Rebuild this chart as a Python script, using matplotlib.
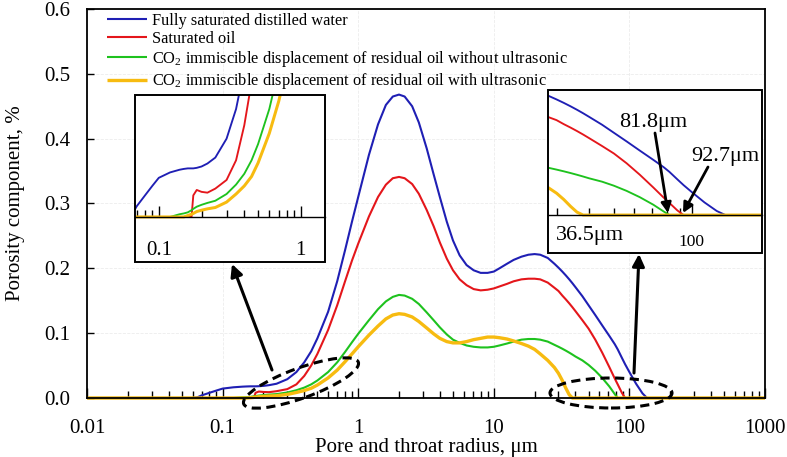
import numpy as np
import matplotlib
matplotlib.use("Agg")
import matplotlib.pyplot as plt
from matplotlib.patches import Ellipse, Rectangle, FancyArrowPatch
from matplotlib.ticker import LogLocator, NullFormatter

plt.rcParams['font.family'] = ['Liberation Serif', 'DejaVu Serif']
plt.rcParams['mathtext.fontset'] = 'custom'
plt.rcParams['mathtext.rm'] = 'Liberation Serif'

# ---------------- data ----------------
radius = [0.01, 0.06, 0.065, 0.07, 0.08, 0.09, 0.1, 0.12, 0.14, 0.15,
          0.16, 0.17, 0.175, 0.185, 0.2, 0.22, 0.25, 0.3, 0.35, 0.4,
          0.45, 0.5, 0.6, 0.7, 0.8, 0.9, 1.0, 1.2, 1.4, 1.6,
          1.8, 2.0, 2.2, 2.5, 2.8, 3.2, 3.6, 4.0, 4.5, 5.0,
          5.6, 6.3, 7.1, 8.0, 9.0, 10, 11, 12.5, 14, 16,
          18, 20, 22, 25, 28, 30, 32, 34, 36, 38,
          40, 45, 50, 56, 63, 71, 78, 82, 88, 93,
          100, 112, 125, 135, 1000]

water = [0, 0, 0.001, 0.004, 0.008, 0.0115, 0.0145, 0.0165, 0.0175, 0.0178,
         0.018, 0.018, 0.018, 0.0182, 0.0187, 0.0198, 0.022, 0.029, 0.040, 0.055,
         0.072, 0.092, 0.133, 0.18, 0.228, 0.272, 0.31, 0.375, 0.422, 0.452,
         0.465, 0.468, 0.465, 0.45, 0.425, 0.385, 0.345, 0.31, 0.272, 0.243,
         0.22, 0.205, 0.197, 0.193, 0.193, 0.195, 0.2, 0.207, 0.213, 0.218,
         0.221, 0.222, 0.221, 0.216, 0.207, 0.201, 0.195, 0.189, 0.183, 0.177,
         0.171, 0.157, 0.143, 0.128, 0.112, 0.096, 0.083, 0.075, 0.062, 0.052,
         0.04, 0.022, 0.007, 0, 0]

oil = [0, 0, 0, 0, 0, 0, 0, 0, 0, 0,
       0, 0, 0.008, 0.010, 0.0093, 0.009, 0.0105, 0.0137, 0.021, 0.034,
       0.05, 0.068, 0.105, 0.143, 0.18, 0.212, 0.238, 0.28, 0.31, 0.329,
       0.339, 0.341, 0.339, 0.33, 0.315, 0.29, 0.265, 0.24, 0.215, 0.197,
       0.183, 0.174, 0.168, 0.166, 0.167, 0.169, 0.172, 0.176, 0.18, 0.183,
       0.184, 0.184, 0.183, 0.178, 0.17, 0.165, 0.158, 0.152, 0.146, 0.14,
       0.134, 0.12, 0.107, 0.09, 0.07, 0.048, 0.03, 0.021, 0.008, 0,
       0, 0, 0, 0, 0]

no_ultra = [0, 0, 0, 0, 0, 0, 0, 0, 0.001, 0.0013,
            0.0017, 0.0025, 0.003, 0.0038, 0.0045, 0.0052, 0.006, 0.0085, 0.012, 0.016,
            0.021, 0.027, 0.04, 0.055, 0.071, 0.086, 0.099, 0.12, 0.137, 0.149,
            0.156, 0.159, 0.158, 0.153, 0.145, 0.132, 0.12, 0.109, 0.098, 0.09,
            0.085, 0.081, 0.079, 0.078, 0.078, 0.079, 0.081, 0.084, 0.087, 0.09,
            0.091, 0.091, 0.09, 0.087, 0.082, 0.079, 0.076, 0.073, 0.07, 0.067,
            0.064, 0.058, 0.051, 0.042, 0.031, 0.018, 0.006, 0, 0, 0,
            0, 0, 0, 0, 0]

with_ultra = [0, 0, 0, 0, 0, 0, 0, 0, 0, 0,
              0.0005, 0.001, 0.0013, 0.002, 0.0025, 0.003, 0.0035, 0.0055, 0.0085, 0.0115,
              0.015, 0.02, 0.031, 0.043, 0.056, 0.068, 0.079, 0.097, 0.111, 0.122,
              0.128, 0.13, 0.129, 0.125, 0.118, 0.108, 0.099, 0.092, 0.087, 0.085,
              0.085, 0.087, 0.09, 0.092, 0.094, 0.094, 0.093, 0.091, 0.088, 0.084,
              0.08, 0.075, 0.068, 0.058, 0.047, 0.038, 0.027, 0.015, 0.005, 0,
              0, 0, 0, 0, 0, 0, 0, 0, 0, 0,
              0, 0, 0, 0, 0]

series_labels = ["Fully saturated distilled water",
                 "Saturated oil",
                 "CO$_\\mathregular{2}$ immiscible displacement of residual oil without ultrasonic",
                 "CO$_\\mathregular{2}$ immiscible displacement of residual oil with ultrasonic"]
series_values = [water, oil, no_ultra, with_ultra]
series_colors = ["#1f1fb4", "#e4161b", "#1ec21e", "#f7bb10"]
series_widths = [1.5, 1.5, 1.5, 2.4]

x_ticks = [0.01, 0.1, 1, 10, 100, 1000]
x_ticklabels = ["0.01", "0.1", "1", "10", "100", "1000"]
y_ticks = [0.0, 0.1, 0.2, 0.3, 0.4, 0.5, 0.6]
y_ticklabels = ["0.0", "0.1", "0.2", "0.3", "0.4", "0.5", "0.6"]

# ---------------- figure ----------------
W, H = 787, 457
fig = plt.figure(figsize=(W / 100, H / 100), dpi=100)


def fbox(x0, y0, x1, y1):
    return [x0 / W, 1 - y1 / H, (x1 - x0) / W, (y1 - y0) / H]


def inch(px, py):
    return (px / 100, (H - py) / 100)


ax = fig.add_axes(fbox(87, 9, 765, 398))
for vals, lab, c, lw in zip(series_values, series_labels, series_colors, series_widths):
    ax.plot(radius, vals, color=c, lw=lw, label=lab, clip_on=False, solid_capstyle='butt')
ax.set_xscale('log')
ax.set_xlim(0.01, 1000)
ax.set_ylim(0, 0.6)
ax.set_xticks(x_ticks)
ax.set_xticklabels(x_ticklabels)
ax.set_yticks(y_ticks)
ax.set_yticklabels(y_ticklabels)
ax.xaxis.set_minor_locator(LogLocator(base=10, subs=np.arange(2, 10), numticks=100))
ax.xaxis.set_minor_formatter(NullFormatter())
ax.tick_params(which='both', direction='in', labelsize=15, width=1)
ax.tick_params(axis='x', which='major', length=7, pad=15)
ax.tick_params(axis='x', which='minor', length=5)
ax.tick_params(axis='y', which='major', length=5, pad=12)
for s in ax.spines.values():
    s.set_linewidth(1.3)
ax.grid(True, which='major', color='#ececec', ls='--', lw=0.6)
ax.set_axisbelow(True)
ax.set_xlabel("Pore and throat radius, μm", fontsize=15, labelpad=0)
ax.set_ylabel("Porosity component, %", fontsize=15, labelpad=14)

leg = ax.legend(loc='upper left', bbox_to_anchor=(0.03, 0.99), frameon=False,
                fontsize=11.8, handlelength=2.45, handletextpad=0.3,
                labelspacing=0.13, borderaxespad=0, borderpad=0)

# ---------------- left inset ----------------
axL = fig.add_axes(fbox(135, 95, 325, 262))
for vals, c, lw in zip(series_values, series_colors, series_widths):
    axL.plot(radius, vals, color=c, lw=lw * 0.9)
axL.set_xscale('log')
axL.set_xlim(0.068, 1.48)
axL.set_ylim(-0.0167, 0.0452)
axL.set_yticks([])
axL.set_xticks([0.1, 1])
axL.set_xticklabels(["0.1", "1"])
axL.xaxis.set_minor_locator(LogLocator(base=10, subs=np.arange(2, 10), numticks=100))
axL.xaxis.set_minor_formatter(NullFormatter())
axL.spines['bottom'].set_position(('data', 0))
axL.spines['bottom'].set_linewidth(1.0)
for k in ['top', 'left', 'right']:
    axL.spines[k].set_visible(False)
axL.tick_params(which='both', direction='in', labelsize=15, width=1, pad=17)
axL.tick_params(which='major', length=8)
axL.tick_params(which='minor', length=5)
axL.add_patch(Rectangle((0, 0), 1, 1, transform=axL.transAxes, fill=False,
                        ec='black', lw=1.4, clip_on=False, zorder=5))

# ---------------- right inset ----------------
axR = fig.add_axes(fbox(548, 90, 762, 253))
for vals, c, lw in zip(series_values, series_colors, series_widths):
    axR.plot(radius, vals, color=c, lw=lw * 0.9)
axR.set_xscale('log')
axR.set_xlim(27.8, 187)
axR.set_ylim(-0.066, 0.2174)
axR.set_yticks([])
axR.set_xticks([100])
axR.set_xticklabels(["100"])
axR.xaxis.set_minor_locator(LogLocator(base=10, subs=np.arange(2, 10), numticks=100))
axR.xaxis.set_minor_formatter(NullFormatter())
axR.spines['bottom'].set_position(('data', 0))
axR.spines['bottom'].set_linewidth(1.0)
for k in ['top', 'left', 'right']:
    axR.spines[k].set_visible(False)
axR.tick_params(which='both', direction='in', labelsize=12.5, width=1, pad=14)
axR.tick_params(which='major', length=7)
axR.tick_params(which='minor', length=5)
axR.add_patch(Rectangle((0, 0), 1, 1, transform=axR.transAxes, fill=False,
                        ec='black', lw=1.4, clip_on=False, zorder=5))
axR.text(0.196, 0.11, "36.5μm", transform=axR.transAxes, fontsize=16,
         ha='center', va='center')

# inset annotations
fig.text(653 / W, 1 - 122 / H, "81.8μm", fontsize=16, ha='center', va='center')
fig.text(725 / W, 1 - 157 / H, "92.7μm", fontsize=16, ha='center', va='center')


def arrow(p0, p1, lw=2.2, ms=16):
    a = FancyArrowPatch(inch(*p0), inch(*p1), transform=fig.dpi_scale_trans,
                        arrowstyle='-|>', mutation_scale=ms, lw=lw, color='black',
                        shrinkA=0, shrinkB=0, zorder=10)
    fig.add_artist(a)


arrow((655, 133), (668, 213), lw=2.0, ms=15)
arrow((708, 167), (683, 213), lw=2.0, ms=15)
arrow((272, 370), (232, 264), lw=2.2, ms=18)
arrow((634, 373), (639, 254), lw=2.2, ms=18)

# dashed ellipses
for (cx, cy, w, h, ang) in [(301, 383, 122, 30, 20), (611, 393, 122, 30, 0)]:
    e = Ellipse(inch(cx, cy), w / 100, h / 100, angle=ang, transform=fig.dpi_scale_trans,
                fill=False, ec='black', lw=2.2, ls=(0, (3, 1.8)), zorder=10)
    fig.add_artist(e)

fig.savefig("out.png", dpi=100)
